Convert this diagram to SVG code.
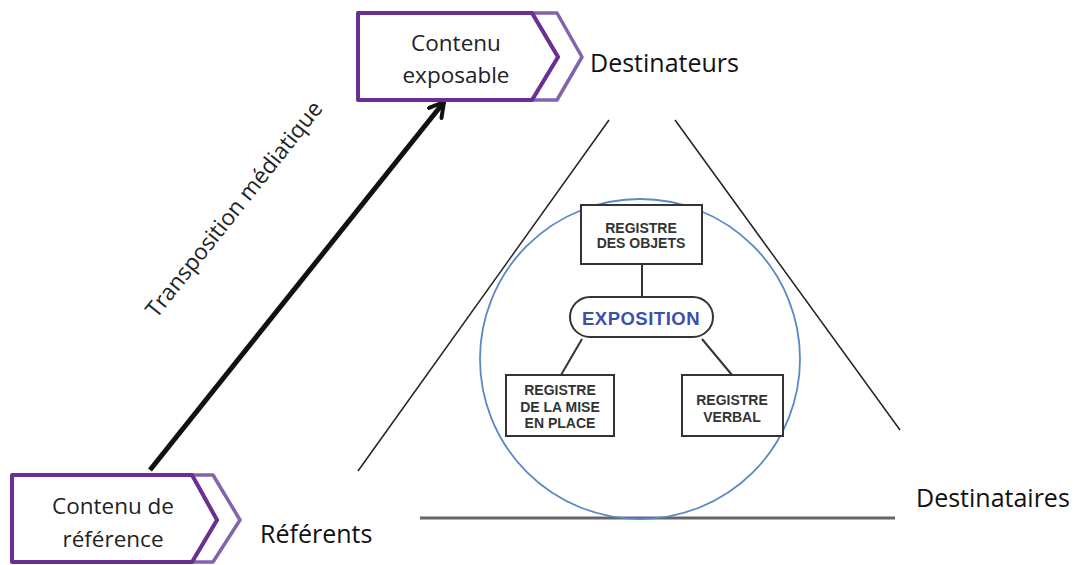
<svg xmlns="http://www.w3.org/2000/svg" width="1078" height="565" viewBox="0 0 1078 565">
<style>
.main{fill:#fff;stroke:#6b2e92;stroke-width:4;stroke-linejoin:round}
.chev{fill:#fff;stroke:#8463ad;stroke-width:3.5;stroke-linejoin:round}
.lbl{font-family:"Open Sans",Lato,sans-serif;font-size:22.5px;fill:#222;text-anchor:middle}
.big{font-family:"Open Sans",Lato,sans-serif;font-size:25px;fill:#111}
.reg{font-family:"Liberation Sans",Arial,sans-serif;font-size:14px;font-weight:bold;fill:#333;text-anchor:middle}
.box{fill:#fff;stroke:#333;stroke-width:2}
.thin{stroke:#333;stroke-width:2;fill:none}
</style>
<defs>
<marker id="ah" viewBox="0 0 10 10" refX="8" refY="5" markerWidth="4" markerHeight="4" orient="auto" markerUnits="strokeWidth">
<path d="M1,1 L8,5 L1,9" fill="none" stroke="#111" stroke-width="2" stroke-linecap="round" stroke-linejoin="round"/>
</marker>
</defs>
<g id="triangle">
<line x1="609" y1="120" x2="358" y2="471" stroke="#222" stroke-width="1.5"/>
<line x1="675" y1="120" x2="900" y2="430" stroke="#222" stroke-width="1.5"/>
<line x1="420" y1="518" x2="895" y2="518" stroke="#666" stroke-width="3"/>
</g>
<circle id="circle" cx="640" cy="359" r="160" fill="none" stroke="#5b87c8" stroke-width="1.8"/>
<g id="connectors">
<line x1="150" y1="470" x2="444" y2="102" stroke="#111" stroke-width="5" marker-end="url(#ah)"/>
<line x1="642" y1="264" x2="642" y2="297" class="thin"/>
<line x1="582" y1="339" x2="561" y2="375" class="thin"/>
<line x1="702" y1="339" x2="732" y2="375" class="thin"/>
</g>
<text class="lbl" transform="translate(240,214) rotate(-51.5)" font-size="25.5">Transposition médiatique</text>
<g id="contenu-exposable">
<path class="chev" d="M532,13 L557,13 L582,57 L557,100 L532,100 L558,57 Z"/>
<path class="main" d="M358,13 L532,13 L558,57 L532,100 L358,100 Z"/>
<text class="lbl" x="456" y="51">Contenu</text>
<text class="lbl" x="456" y="83">exposable</text>
</g>
<text id="destinateurs" class="big" x="590" y="72">Destinateurs</text>
<g id="contenu-reference">
<path class="chev" d="M192,475 L213,475 L240,520 L213,562 L192,562 L217,520 Z"/>
<path class="main" d="M12,475 L192,475 L217,520 L192,562 L12,562 Z"/>
<text class="lbl" x="113" y="514">Contenu de</text>
<text class="lbl" x="113" y="547">référence</text>
</g>
<text id="referents" class="big" x="260" y="543">Référents</text>
<text id="destinataires" class="big" x="916" y="507">Destinataires</text>
<g id="registre-objets">
<rect class="box" x="581" y="205" width="121" height="59"/>
<text class="reg" x="641" y="233">REGISTRE</text>
<text class="reg" x="641" y="248">DES OBJETS</text>
</g>
<g id="exposition">
<rect class="box" x="570" y="297" width="143" height="40" rx="20"/>
<text x="641" y="325" font-family="Liberation Sans,Arial,sans-serif" font-size="18.5" font-weight="bold" letter-spacing="0.5" fill="#3b4fae" text-anchor="middle">EXPOSITION</text>
</g>
<g id="registre-mise">
<rect class="box" x="506" y="375" width="108" height="61"/>
<text class="reg" x="560" y="395">REGISTRE</text>
<text class="reg" x="560" y="412">DE LA MISE</text>
<text class="reg" x="560" y="428">EN PLACE</text>
</g>
<g id="registre-verbal">
<rect class="box" x="682" y="375" width="101" height="61"/>
<text class="reg" x="732" y="405">REGISTRE</text>
<text class="reg" x="732" y="422">VERBAL</text>
</g>
</svg>
